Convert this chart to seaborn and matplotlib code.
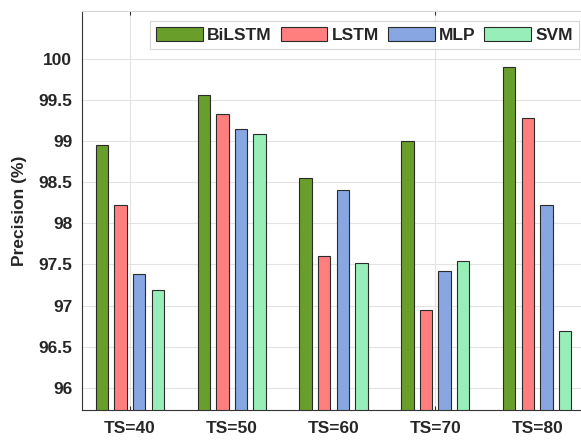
import matplotlib
matplotlib.use("Agg")
import matplotlib.pyplot as plt
import seaborn as sns
import pandas as pd

categories = ["TS=40", "TS=50", "TS=60", "TS=70", "TS=80"]
models = ["BiLSTM", "LSTM", "MLP", "SVM"]
bilstm = [98.95, 99.56, 98.55, 99.00, 99.90]
lstm = [98.22, 99.33, 97.60, 96.94, 99.28]
mlp = [97.38, 99.14, 98.40, 97.42, 98.22]
svm = [97.19, 99.08, 97.52, 97.54, 96.69]
yticks = [96, 96.5, 97, 97.5, 98, 98.5, 99, 99.5, 100]
ytick_labels = ["96", "96.5", "97", "97.5", "98", "98.5", "99", "99.5", "100"]
colors = ["#6A9E2A", "#FF7F7F", "#87A6E2", "#98EEB9"]

rows = []
for m, vals in zip(models, [bilstm, lstm, mlp, svm]):
    for c, v in zip(categories, vals):
        rows.append({"ts": c, "model": m, "val": v})
df = pd.DataFrame(rows)

sns.set_style("white")
plt.rcParams["font.family"] = ["Liberation Sans", "DejaVu Sans"]
plt.rcParams["font.weight"] = "bold"

fig = plt.figure(figsize=(5.81, 4.42), dpi=100)
ax = fig.add_axes([82 / 581, 32 / 442, 503 / 581, 399 / 442])

sns.barplot(data=df, x="ts", y="val", hue="model", order=categories,
            hue_order=models, palette=colors, width=0.73, gap=0.33,
            edgecolor="#2b2b2b", linewidth=0.8, errorbar=None, ax=ax,
            saturation=1)

ax.set_ylim(95.73, 100.58)
ax.set_xlim(-0.47, 4.47)
ax.set_yticks(yticks)
ax.set_yticklabels(ytick_labels, fontsize=12.5, fontweight="bold", color="#262626")

# MATLAB-style major ticks at positions 1 and 4 (groups 0 and 3), labels as minor ticks
ax.xaxis.remove_overlapping_locs = False
ax.set_xticks([0, 3])
ax.set_xticklabels(["", ""])
ax.set_xticks(range(len(categories)), minor=True)
ax.set_xticklabels(categories, minor=True, fontsize=12.5, fontweight="bold", color="#262626")
ax.tick_params(axis="x", which="major", direction="in", length=3, top=True, bottom=True,
               color="#333333", width=0.8)
ax.tick_params(axis="x", which="minor", length=0, pad=8)
ax.tick_params(axis="y", direction="out", length=4, color="#333333", width=0.8, pad=3)

ax.grid(True, which="major", axis="both", color="#e3e3e3", linewidth=0.8)
ax.set_axisbelow(True)

ax.set_xlabel("")
ax.set_ylabel("Precision (%)", fontsize=12.5, fontweight="bold", color="#262626", labelpad=8)

for s in ["left", "bottom"]:
    ax.spines[s].set_color("#333333")
    ax.spines[s].set_linewidth(0.8)
ax.spines["top"].set_color("#d5d5d5")
ax.spines["top"].set_linewidth(0.8)
ax.spines["right"].set_visible(False)

leg = ax.legend(loc="upper right", bbox_to_anchor=(0.988, 0.975), ncol=4,
                frameon=True, fancybox=False,
                handlelength=2.7, handleheight=0.85, handletextpad=0.25,
                columnspacing=0.5, borderpad=0.35, borderaxespad=0,
                prop={"weight": "bold", "size": 12.5})
leg.get_frame().set_edgecolor("#cccccc")
leg.get_frame().set_linewidth(0.8)
for t in leg.get_texts():
    t.set_color("#262626")

fig.savefig("out.png", dpi=100)
